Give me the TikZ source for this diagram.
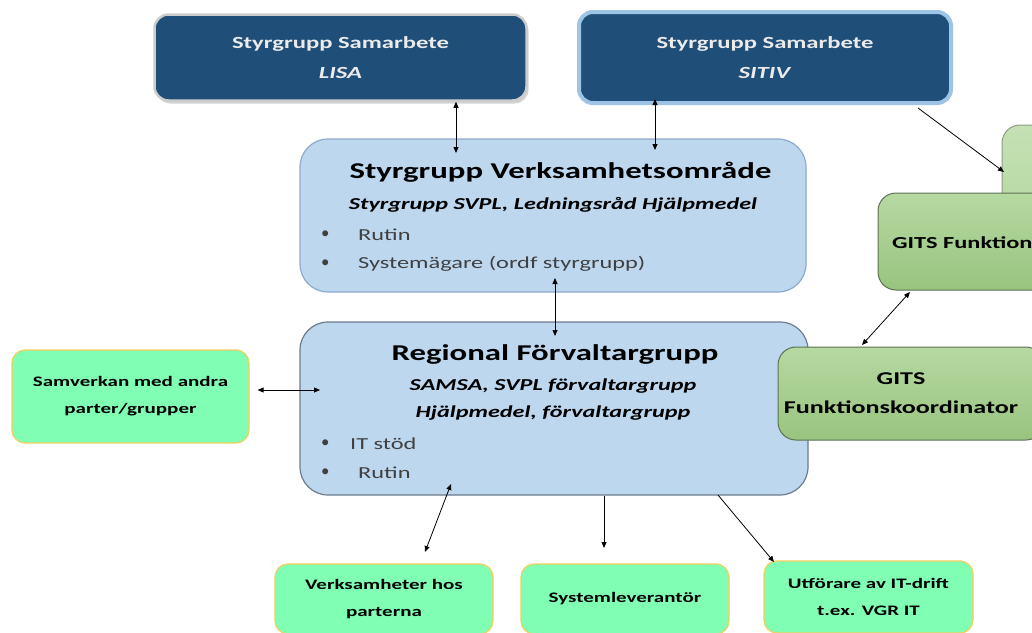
\documentclass[tikz,border=0pt]{standalone}
\usepackage{fontspec}
\setmainfont{Carlito}[FakeStretch=1.45]
\newfontfamily\plainfont{Carlito}
\usetikzlibrary{arrows.meta,shadows,calc}
\definecolor{dkblue}{HTML}{1F4E79}
\definecolor{ltblue}{HTML}{BDD7EE}
\definecolor{ltblueline}{HTML}{8EAACC}
\definecolor{rfline}{HTML}{6D7B8D}
\definecolor{mint}{HTML}{80FFB4}
\definecolor{mintline}{HTML}{F2CE5A}
\definecolor{gtop}{HTML}{B6D9A2}
\definecolor{gbot}{HTML}{98C47F}
\definecolor{gline}{HTML}{5E7052}
\definecolor{sitivline}{HTML}{9DC3E6}
\definecolor{txtgrey}{HTML}{404040}
\begin{document}
\begin{tikzpicture}[x=1pt,y=-1pt,
  darkbox/.style={rounded corners=14pt, fill=dkblue, text=white!92!black, align=center,
    font=\bfseries\fontsize{17}{30}\selectfont, inner sep=0pt},
  bluebox/.style={rounded corners=28pt, fill=ltblue, draw=ltblueline, line width=1.2pt, inner sep=0pt},
  mintbox/.style={rounded corners=13pt, fill=mint, draw=mintline, line width=1.2pt, align=center,
    font=\bfseries\fontsize{14.5}{27}\selectfont, inner sep=0pt},
  gitsbox/.style={rounded corners=18pt, top color=gtop, bottom color=gbot, draw=gline, line width=1pt,
    font=\bfseries\fontsize{18}{29}\selectfont, inner sep=0pt},
  gitstext/.style={font=\bfseries\fontsize{18}{29}\selectfont, inner sep=0pt, align=center},
  title/.style={font=\bfseries\fontsize{22.6}{26}\selectfont, inner sep=0pt},
  subtitle/.style={font=\bfseries\itshape\fontsize{16.7}{27}\selectfont, inner sep=0pt, align=center},
  bullet/.style={font=\fontsize{16.8}{19}\selectfont, text=txtgrey, inner sep=0pt, anchor=west},
  dot/.style={font=\plainfont\fontsize{16.8}{19}\selectfont, text=txtgrey, inner sep=0pt, anchor=west},
  conn/.style={line width=0.8pt, -{Triangle[length=6pt,width=5pt]}},
  bconn/.style={line width=0.8pt, {Triangle[length=6pt,width=5pt]}-{Triangle[length=6pt,width=5pt]}}
]
\useasboundingbox (0,0) rectangle (1032,632);
\clip (0,0) rectangle (1032,632);

% top dark boxes
\node[darkbox, draw=black!20, line width=2.5pt, minimum width=372pt, minimum height=86pt,
  drop shadow={opacity=0.35, shadow xshift=2pt, shadow yshift=-3pt}]
  (lisa) at (340.5,57.5) {Styrgrupp Samarbete\\\textit{LISA}};
\node[darkbox, draw=sitivline, line width=4pt, minimum width=372pt, minimum height=91pt]
  (sitiv) at (765,57.5) {Styrgrupp Samarbete\\\textit{SITIV}};

% Styrgrupp Verksamhetsomrade
\node[bluebox, minimum width=506pt, minimum height=153pt] (svo) at (553,215.5) {};
\node[title] (svot) at (560.5,172) {Styrgrupp Verksamhetsområde};
\node[subtitle] (svos) at (553,205) {Styrgrupp SVPL, Ledningsråd Hjälpmedel};
\node[dot] (svob1) at (321,235) {•};
\node[bullet] (svor) at (358,235) {Rutin};
\node[dot] (svob2) at (321,264) {•};
\node[bullet] (svosys) at (358,264) {Systemägare (ordf styrgrupp)};

% Regional Forvaltargrupp
\node[bluebox, draw=rfline, minimum width=508pt, minimum height=173pt] (rf) at (554,408.5) {};
\node[title] (rft) at (555,354) {Regional Förvaltargrupp};
\node[subtitle] (rfs) at (553,399.5) {SAMSA, SVPL förvaltargrupp\\Hjälpmedel, förvaltargrupp};
\node[dot] (rfb1) at (321,444) {•};
\node[bullet] (rfit) at (350,444) {IT stöd};
\node[dot] (rfb2) at (321,473) {•};
\node[bullet] (rfr) at (358,473) {Rutin};

% left mint box
\node[mintbox, minimum width=237pt, minimum height=93pt] (samv) at (130.5,396.5) {Samverkan med andra\\parter/grupper};

% right green boxes
\node[gitsbox, draw=gline!70, top color=gtop!80, bottom color=gtop, minimum width=110pt, minimum height=93pt] (gx) at (1057,171.5) {};
\node[gitsbox, minimum width=200pt, minimum height=97pt] (gf) at (978,241.5) {};
\node[gitstext, font=\bfseries\fontsize{16.8}{29}\selectfont, anchor=west] (gft) at (892,243) {GITS Funktion};
\node[gitsbox, minimum width=266pt, minimum height=93pt] (gfk) at (911,393.5) {};
\node[gitstext] (gfkt) at (901,393.5) {GITS\\Funktionskoordinator};

% bottom mint boxes
\node[mintbox, minimum width=218pt, minimum height=70pt] (verk) at (384,599) {Verksamheter hos\\parterna};
\node[mintbox, minimum width=208pt, minimum height=70pt] (slev) at (625,599) {Systemleverantör};
\node[mintbox, minimum width=209pt, minimum height=72pt] (utf) at (868.5,597) {Utförare av IT-drift\\t.ex. VGR IT};

% connectors
\coordinate (c1) at (456,153);
\draw[bconn] (lisa.south -| c1) -- (c1);
\coordinate (c2) at (655,150);
\draw[bconn] (sitiv.south -| c2) ++(0,-6) -- (c2);
\coordinate (c3t) at (555,278);
\coordinate (c3b) at (555,336);
\draw[bconn] (c3t) -- (c3b);
\coordinate (c4) at (320,390);
\draw[bconn] (samv.east |- c4) ++(8,0) -- (c4);
\coordinate (c5t) at (451,484);
\coordinate (c5b) at (425,552);
\draw[bconn] (c5t) -- (c5b);
\coordinate (c6b) at (604,548);
\draw[conn] (rf.south -| c6b) -- (c6b);
\coordinate (c7t) at (718,495);
\coordinate (c7b) at (774,562);
\draw[conn] (c7t) -- (c7b);
\coordinate (c8t) at (910,292);
\coordinate (c8b) at (862,345);
\draw[bconn] (c8b) -- (c8t);
\coordinate (c9t) at (918,108);
\coordinate (c9b) at (1004,172);
\draw[conn] (c9t) -- (c9b);
\end{tikzpicture}
\end{document}
